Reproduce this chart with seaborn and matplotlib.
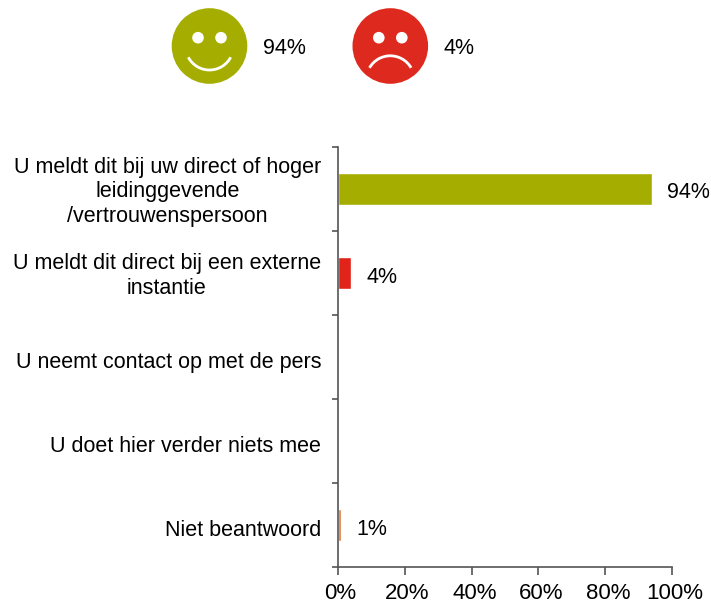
import matplotlib
matplotlib.use("Agg")
import matplotlib.pyplot as plt
from matplotlib.patches import Circle, Arc
from matplotlib.transforms import ScaledTranslation
import pandas as pd
import seaborn as sns

categories = [
    "U meldt dit bij uw direct of hoger\nleidinggevende\n/vertrouwenspersoon",
    "U meldt dit direct bij een externe\ninstantie",
    "U neemt contact op met de pers",
    "U doet hier verder niets mee",
    "Niet beantwoord",
]
values = [94, 4, 0, 0, 1]
value_labels = ["94%", "4%", "", "", "1%"]
bar_colors = ["#A5AE00", "#E2231A", "#A5AE00", "#A5AE00", "#E07B39"]
ticks = [0, 20, 40, 60, 80, 100]
happy_label = "94%"
sad_label = "4%"

W, H = 711, 604
FS = 15.5
AXIS = "#555555"

sns.set_theme(style="white")
plt.rcParams["font.family"] = ["Liberation Sans", "DejaVu Sans"]

fig = plt.figure(figsize=(W / 100, H / 100), dpi=100)
ax = fig.add_axes([337.7 / W, 1 - 567.3 / H, (672.2 - 337.7) / W, (567.3 - 146.7) / H])

df = pd.DataFrame({"cat": categories, "val": values})
sns.barplot(data=df, y="cat", x="val", hue="cat", palette=bar_colors, legend=False,
            width=0.375, saturation=1, ax=ax)

ax.set_xlim(0, 100)
ax.set_ylim(4.5, -0.5)
ax.set_xticks(ticks)
ax.set_xticklabels([f"{t}%" for t in ticks], fontsize=16, color="black")
ax.set_xlabel("")
ax.set_ylabel("")
ax.set_yticks(range(len(categories)))
ax.set_yticklabels(categories, fontsize=FS, color="black", ha="right",
                   multialignment="center", linespacing=1.22)
ax.tick_params(axis="y", which="major", length=0, pad=12)
ax.tick_params(axis="x", length=6, width=1.2, color=AXIS, pad=5.5, bottom=True)

# tick marks sit between the categories on the y axis
ax.set_yticks([i - 0.5 for i in range(len(categories) + 1)], minor=True)
ax.tick_params(axis="y", which="minor", length=4.5, width=1.2, color=AXIS, left=True)

sns.despine(ax=ax, top=True, right=True)
for side in ("left", "bottom"):
    ax.spines[side].set_color(AXIS)
    ax.spines[side].set_linewidth(1.2)

# nudge the tick labels a few pixels, as in the source
for lab in ax.get_yticklabels():
    dy = 1 if "\n" in lab.get_text() else -2
    lab.set_transform(lab.get_transform() + ScaledTranslation(0, dy / 72, fig.dpi_scale_trans))
for lab in ax.get_xticklabels():
    lab.set_transform(lab.get_transform() + ScaledTranslation(2 / 72, 0, fig.dpi_scale_trans))

for i, lab in enumerate(value_labels):
    if lab:
        ax.annotate(lab, (values[i], i), xytext=(11, -3), textcoords="offset points",
                    va="center", ha="left", fontsize=FS, color="black")

# smiley faces in pixel coordinates of the whole figure
overlay = fig.add_axes([0, 0, 1, 1], zorder=5)
overlay.set_xlim(0, W)
overlay.set_ylim(H, 0)
overlay.axis("off")

def draw_face(cx, cy, color, happy):
    overlay.add_patch(Circle((cx, cy), 37.8, color=color, lw=0))
    for dx in (-11.5, 11.5):
        overlay.add_patch(Circle((cx + dx, cy - 8.3), 5.8, color="white", lw=0))
    if happy:
        overlay.add_patch(Arc((cx, cy), 48, 48, theta1=28, theta2=152, color="white", lw=2))
    else:
        overlay.add_patch(Arc((cx, cy + 33.8), 48, 48, theta1=210, theta2=330, color="white", lw=2))

draw_face(209.5, 46, "#A5AE00", True)
draw_face(390.3, 46, "#DE2A1E", False)
overlay.text(263, 48, happy_label, fontsize=FS, va="center", ha="left", color="black")
overlay.text(444, 48, sad_label, fontsize=FS, va="center", ha="left", color="black")

fig.savefig("out.png", dpi=100)
